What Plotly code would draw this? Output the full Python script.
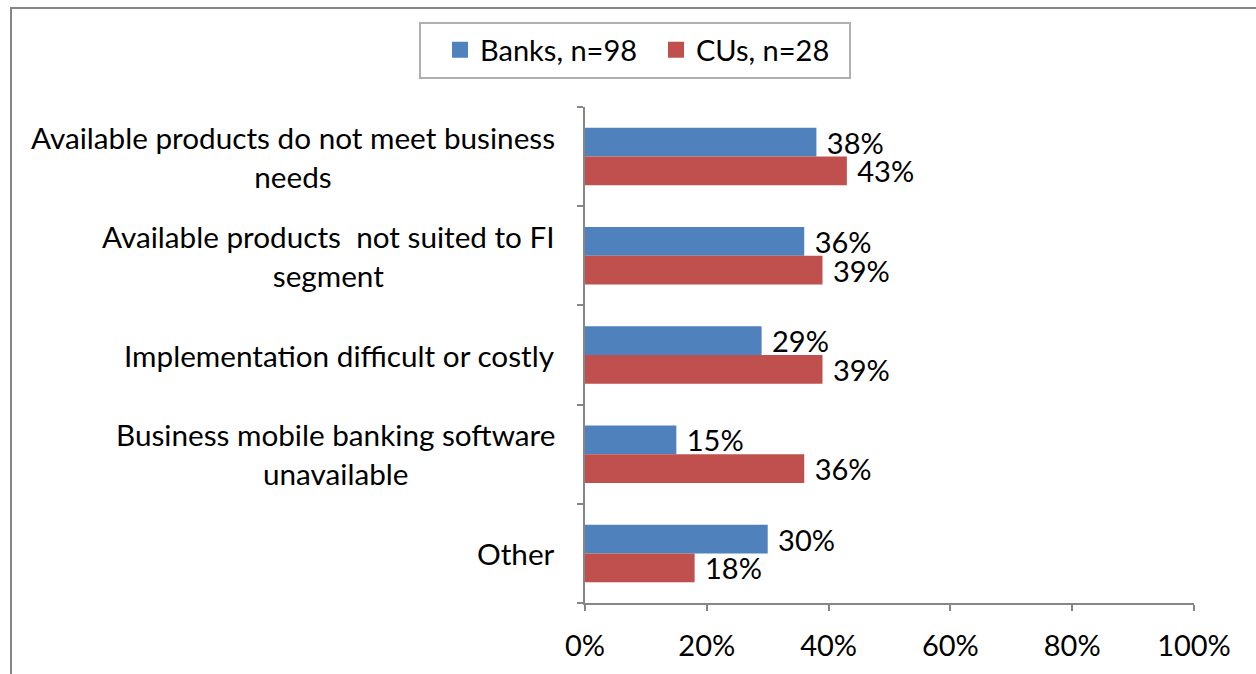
import plotly.graph_objects as go

categories = [
    "Available products do not meet business<br>needs",
    "Available products  not suited to FI<br>segment",
    "Implementation difficult or costly",
    "Business mobile banking software<br>unavailable",
    "Other",
]
banks = [38, 36, 29, 15, 30]
cus = [43, 39, 39, 36, 18]
series_names = ["Banks, n=98", "CUs, n=28"]
x_ticks = [0, 20, 40, 60, 80, 100]
x_tick_labels = ["0%", "20%", "40%", "60%", "80%", "100%"]

FONT = "Lato"
BLUE = "#4F81BD"
RED = "#C0504D"
FRAME = "#868686"

W, H = 1256, 674
L, R, T, B = 585, 62, 107, 71
pw, ph = W - L - R, H - T - B


def px_to_paper_x(px):
    return (px - L) / pw


def px_to_paper_y(py):
    return (H - B - py) / ph


fig = go.Figure()
for name, vals, color in [(series_names[0], banks, BLUE), (series_names[1], cus, RED)]:
    fig.add_trace(go.Bar(
        y=list(range(len(categories))),
        x=vals,
        orientation="h",
        name=name,
        showlegend=False,
        marker=dict(color=color, line=dict(width=0)),
        text=[f"{v}%" for v in vals],
        texttemplate="\u00a0%{text}",
        textposition="outside",
        constraintext="none",
        textfont=dict(family=FONT, size=29, color="#000000"),
        cliponaxis=False,
    ))
    # legend entry with a square swatch
    fig.add_trace(go.Scatter(
        x=[None], y=[None], mode="markers", name=name,
        marker=dict(symbol="square", size=18, color=color),
        showlegend=True,
    ))

# category labels: right-anchored blocks, centred lines
for i, c in enumerate(categories):
    fig.add_annotation(
        x=px_to_paper_x(557), xref="paper", xanchor="right",
        y=i, yref="y", yanchor="middle",
        text=c, showarrow=False, align="center",
        font=dict(family=FONT, size=29.7, color="#000000"),
    )

# outer chart frame (top and left edges visible)
fig.add_shape(
    type="rect", xref="paper", yref="paper",
    x0=px_to_paper_x(11), x1=px_to_paper_x(1300),
    y0=px_to_paper_y(720), y1=px_to_paper_y(8),
    line=dict(color=FRAME, width=2), fillcolor="rgba(0,0,0,0)",
    layer="below",
)
# legend box
fig.add_shape(
    type="rect", xref="paper", yref="paper",
    x0=px_to_paper_x(420), x1=px_to_paper_x(850),
    y0=px_to_paper_y(78), y1=px_to_paper_y(23),
    line=dict(color="#B0B0B0", width=2), fillcolor="white",
    layer="below",
)

fig.update_layout(
    width=W, height=H,
    margin=dict(l=L, r=R, t=T, b=B),
    plot_bgcolor="white", paper_bgcolor="white",
    barmode="group", bargap=0.42, bargroupgap=0,
    font=dict(family=FONT, size=29, color="#000000"),
    showlegend=True,
    legend=dict(
        orientation="h", traceorder="normal",
        x=px_to_paper_x(440), xanchor="left",
        y=px_to_paper_y(50), yanchor="middle",
        borderwidth=0, bgcolor="rgba(0,0,0,0)",
        font=dict(family=FONT, size=29),
        itemsizing="trace",
        entrywidth=171, entrywidthmode="pixels",
    ),
    xaxis=dict(
        range=[0, 100], tickvals=x_ticks, ticktext=x_tick_labels,
        showgrid=False, zeroline=False,
        showline=True, linecolor=FRAME, linewidth=1.5,
        ticks="outside", ticklen=6, tickcolor=FRAME, tickwidth=1.5,
        tickfont=dict(family=FONT, size=29), ticklabelstandoff=10,
    ),
    yaxis=dict(
        type="linear", range=[len(categories) - 0.5, -0.5],
        tickvals=[i - 0.5 for i in range(len(categories) + 1)],
        showticklabels=False, showgrid=False, zeroline=False,
        showline=True, linecolor=FRAME, linewidth=1.5,
        ticks="outside", ticklen=6, tickcolor=FRAME, tickwidth=1.5,
    ),
)

fig.write_html("out.html")
